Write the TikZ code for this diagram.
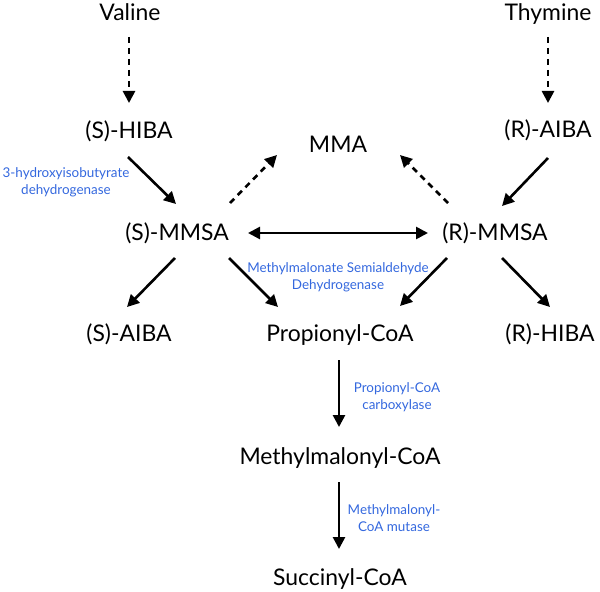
\documentclass[tikz,border=0pt]{standalone}
\usepackage{fontspec}
\setmainfont{Lato}
\usetikzlibrary{arrows.meta}
\definecolor{enzblue}{RGB}{52,104,222}
\begin{document}
\begin{tikzpicture}[x=1bp,y=-1bp,
  met/.style={anchor=base,inner sep=0pt,font=\fontsize{23}{27}\selectfont},
  enz/.style={align=center,inner sep=0pt,text=enzblue,font=\fontsize{13.5}{17}\selectfont},
  rx/.style={line width=2.6bp,-{Triangle[length=12bp,width=12bp]}},
  rxboth/.style={line width=2.6bp,{Triangle[length=12bp,width=12bp]}-{Triangle[length=12bp,width=12bp]}},
  rxdash/.style={rx,dash pattern=on 6bp off 5bp}]
\useasboundingbox (0,0) rectangle (600,592);
\node[met] (valine) at (130,21) {Valine};
\node[met] (thymine) at (548,21) {Thymine};
\node[met] (shiba) at (129,139) {(S)-HIBA};
\node[met] (raiba) at (548,138) {(R)-AIBA};
\node[met] (mma) at (338,153) {MMA};
\node[met] (smmsa) at (177,240) {(S)-MMSA};
\node[met] (rmmsa) at (495,240) {(R)-MMSA};
\node[met] (saiba) at (129,341) {(S)-AIBA};
\node[met] (propcoa) at (340,341) {Propionyl-CoA};
\node[met] (rhiba) at (550,341) {(R)-HIBA};
\node[met] (mmcoa) at (340,464) {Methylmalonyl-CoA};
\node[met] (succ) at (340,585) {Succinyl-CoA};
\node[enz] (e1) at (66,182.5) {3-hydroxyisobutyrate\\dehydrogenase};
\node[enz] (e2) at (338,277) {Methylmalonate Semialdehyde\\Dehydrogenase};
\node[enz] (e3) at (397,397) {Propionyl-CoA\\carboxylase};
\node[enz] (e4) at (394,518) {Methylmalonyl-\\CoA mutase};
\draw[rxdash] ([shift={(-1,16)}]valine.base) -- ([shift={(0,-36)}]shiba.base);
\draw[rxdash] ([shift={(0,16)}]thymine.base) -- ([shift={(0,-35)}]raiba.base);
\draw[rx] ([shift={(-1,18)}]shiba.base) -- ([shift={(-1,-36)}]smmsa.base);
\draw[rx] ([shift={(0,20)}]raiba.base) -- ([shift={(7,-34)}]rmmsa.base);
\draw[rxdash] ([shift={(53,-37)}]smmsa.base) -- ([shift={(-61,2)}]mma.base);
\draw[rxdash] ([shift={(-47,-37)}]rmmsa.base) -- ([shift={(62,2)}]mma.base);
\draw[rxboth] ([shift={(71,-7)}]smmsa.base) -- ([shift={(-67,-7)}]rmmsa.base);
\draw[rx] ([shift={(-2,18)}]smmsa.base) -- ([shift={(-2,-34)}]saiba.base);
\draw[rx] ([shift={(52,18)}]smmsa.base) -- ([shift={(-62,-34)}]propcoa.base);
\draw[rx] ([shift={(-48,18)}]rmmsa.base) -- ([shift={(60,-35)}]propcoa.base);
\draw[rx] ([shift={(7,18)}]rmmsa.base) -- ([shift={(0,-34)}]rhiba.base);
\draw[rx] ([shift={(-1,19)}]propcoa.base) -- ([shift={(-1,-37)}]mmcoa.base);
\draw[rx] ([shift={(-1,18)}]mmcoa.base) -- ([shift={(-1,-36)}]succ.base);
\end{tikzpicture}
\end{document}
